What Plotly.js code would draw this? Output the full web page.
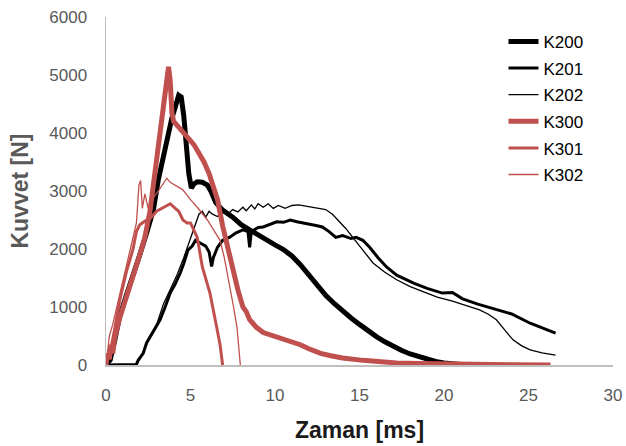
<!DOCTYPE html>
<html><head><meta charset="utf-8">
<script src="https://cdn.plot.ly/plotly-3.0.1.min.js"></script>
<style>html,body{margin:0;padding:0;background:#fff}#c{width:626px;height:446px}</style>
</head><body><div id="c"></div>
<script>
var seriesNames = ["K200","K201","K202","K300","K301","K302"];
var k200x = [0,0.25,0.5,0.8,1.2,1.6,2.0,2.4,2.8,3.1,3.4,3.7,3.9,4.1,4.3,4.45,4.6,4.75,4.9,5.05,5.2,5.4,5.7,6.0,6.2,6.5,6.9,7.5,8.0,8.5,9.0,9.5,10.0,10.5,11.0,11.5,12.0,12.5,13.0,13.5,14.0,14.5,15.0,15.5,16.0,16.5,17.0,17.5,18.0,18.5,19.0,19.5,20.0,20.5,21,22];
var k200y = [0,90,400,830,1200,1520,1900,2270,2670,3200,3620,4000,4260,4450,4650,4620,4300,3800,3300,3050,3120,3160,3150,3100,3000,2800,2670,2550,2420,2330,2240,2140,2070,1990,1880,1730,1560,1360,1200,1060,930,810,700,590,490,400,320,250,190,140,95,60,35,20,10,5];
var k201x = [0,1.0,1.8,1.9,2.1,2.2,2.4,2.6,2.9,3.2,3.5,3.8,4.1,4.4,4.6,4.85,5.1,5.3,5.6,5.9,6.1,6.25,6.35,6.6,6.9,7.3,7.7,8.1,8.4,8.5,8.6,9.0,9.3,9.7,10.1,10.5,10.9,11.3,11.7,12.1,12.5,12.8,13.2,13.6,14.0,14.5,14.8,15.2,15.6,16.1,16.6,17.2,18.2,19.0,19.9,20.5,21.1,22.0,23.1,24.0,25.1,25.8,26.6];
var k201y = [0,0,10,80,150,200,380,480,620,780,1000,1240,1400,1590,1750,1980,2050,2150,2100,2050,1950,1700,1850,2030,2150,2200,2280,2330,2300,2030,2300,2370,2380,2420,2470,2460,2500,2470,2450,2430,2400,2380,2300,2200,2230,2180,2200,2150,2030,1850,1690,1550,1410,1320,1240,1250,1140,1050,950,880,720,640,550];
var k202x = [0,1.0,1.8,2.0,2.3,2.6,3.0,3.4,3.8,4.2,4.6,5.0,5.3,5.5,5.7,5.9,6.1,6.3,6.6,6.9,7.2,7.5,7.8,8.1,8.3,8.6,8.8,9.0,9.3,9.6,9.9,10.2,10.6,11.0,11.4,11.8,12.2,12.6,13.0,13.4,13.8,14.2,14.6,15.0,15.4,15.8,16.5,17.2,18.0,19.0,19.6,20.5,21.3,22.1,22.6,23.1,23.6,24.1,24.6,25.1,25.8,26.6];
var k202y = [0,0,10,100,300,480,700,1050,1300,1550,1850,2200,2450,2600,2650,2550,2650,2600,2560,2630,2600,2680,2640,2720,2660,2760,2690,2780,2720,2780,2700,2750,2700,2750,2760,2740,2720,2700,2680,2600,2480,2350,2200,2050,1900,1760,1600,1470,1350,1240,1170,1100,1030,950,880,780,600,430,330,260,210,170];
var k300x = [0,0.1,0.2,0.3,0.4,0.5,0.8,1.2,1.6,2.0,2.3,2.6,2.8,3.0,3.2,3.4,3.55,3.7,3.8,3.9,4.0,4.3,4.6,4.9,5.2,5.5,5.8,6.1,6.4,6.6,6.9,7.2,7.5,7.8,8.1,8.3,8.5,8.9,9.3,10.0,10.9,11.5,12.0,12.7,13.3,14.0,15.2,16.0,17.2,18.5,20,22,24,26.3];
var k300y = [0,200,100,350,200,450,800,1150,1500,1900,2200,2650,3100,3600,4100,4500,4800,5140,4900,4350,4200,4100,4000,3900,3800,3650,3500,3300,3050,2850,2400,2000,1690,1300,1000,920,780,650,560,500,420,350,280,200,160,120,80,60,35,25,15,10,5,0];
var k301x = [0,0.15,0.3,0.5,0.8,1.2,1.6,1.8,2.0,2.3,2.6,3.0,3.4,3.8,4.1,4.3,4.55,4.8,5.0,5.4,5.7,6.15,6.55,6.75,6.9];
var k301y = [0,150,300,600,1100,1600,2000,2300,2420,2480,2520,2650,2720,2780,2700,2650,2500,2450,2450,2200,1690,1240,650,350,0];
var k302x = [0,0.1,0.2,0.4,0.8,1.2,1.5,1.8,1.95,2.05,2.15,2.3,2.5,2.7,3.0,3.3,3.6,3.8,4.1,4.55,5.0,5.4,6.0,6.4,6.75,7.0,7.3,7.55,7.75,7.9,7.95];
var k302y = [0,300,500,700,1200,1690,2100,2450,3100,3180,2700,2950,2700,2850,2960,3100,3220,3150,3100,3020,2850,2720,2500,2300,2150,1850,1410,1000,650,200,0];
var xTicks = [0,5,10,15,20,25,30];
var yTicks = [0,1000,2000,3000,4000,5000,6000];

var black = "#000000", red = "#c0504d";
var xs = [k200x,k201x,k202x,k300x,k301x,k302x];
var ys = [k200y,k201y,k202y,k300y,k301y,k302y];
var widths = [5,3,1.3,5,3,1.3];
var colors = [black,black,black,red,red,red];
var traces = seriesNames.map(function(n,i){
  return {x:xs[i], y:ys[i], name:n, type:"scatter", mode:"lines",
    legendgroup:n, line:{color:colors[i], width:widths[i]}};
});
var layout = {
  width:626, height:446,
  margin:{l:106, r:13, t:17, b:81},
  paper_bgcolor:"#fff", plot_bgcolor:"#fff",
  font:{family:"Liberation Sans, Arial, sans-serif", size:17, color:"#595959"},
  showlegend:true,
  legend:{x:0.784, xanchor:"left", y:0.98, yanchor:"top", bgcolor:"rgba(0,0,0,0)",
    font:{size:17, color:"#000"}, tracegroupgap:1.5},
  xaxis:{range:[0,30], tickvals:xTicks, showgrid:false, zeroline:false,
    showline:true, linecolor:"#bfbfbf", linewidth:1.5, ticks:"", ticklabelstandoff:14,
    title:{text:"Zaman [ms]", font:{size:23, color:"#1a1a1a", family:"Liberation Sans, Arial, sans-serif", weight:"bold"}, standoff:18}},
  yaxis:{range:[0,6000], tickvals:yTicks, showgrid:false, zeroline:false,
    showline:true, linecolor:"#bfbfbf", linewidth:1.5, ticks:"", ticklabelstandoff:14,
    title:{text:"Kuvvet [N]", font:{size:23, color:"#595959", family:"Liberation Sans, Arial, sans-serif", weight:"bold"}, standoff:14}}
};
Plotly.newPlot("c", traces, layout, {staticPlot:true, displayModeBar:false});
</script></body></html>
